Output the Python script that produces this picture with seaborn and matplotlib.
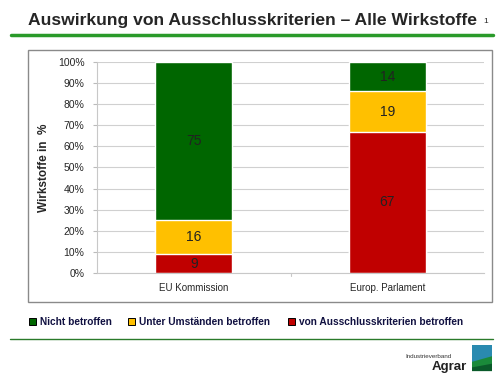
import seaborn as sns
import numpy as np
import matplotlib.pyplot as plt
import pandas as pd
from matplotlib.patches import Rectangle, Polygon
from matplotlib.lines import Line2D

# Daten
gremien = ['EU Kommission', 'Europ. Parlament']
betroffen = [9, 67]        # von Ausschlusskriterien betroffen
unter_umst = [16, 19]      # Unter Umständen betroffen
nicht_betr = [75, 14]      # Nicht betroffen
y_ticks = [0, 10, 20, 30, 40, 50, 60, 70, 80, 90, 100]

farben = {'nicht': '#006600', 'unter': '#FFC000', 'betr': '#C00000'}

sns.set_style('white')
plt.rcParams['font.family'] = ['Liberation Sans', 'DejaVu Sans']

df = pd.DataFrame({'gremium': gremien, 'betr': betroffen, 'unter': unter_umst, 'nicht': nicht_betr})
df['cum_unter'] = df['betr'] + df['unter']
df['cum_nicht'] = df['cum_unter'] + df['nicht']

fig = plt.figure(figsize=(5, 3.73), dpi=100)
ax = fig.add_axes([0.194, 0.268, 0.774, 0.566])

# gestapelt: oberste Schicht zuerst
sns.barplot(x='gremium', y='cum_nicht', data=df, color=farben['nicht'], width=0.4, saturation=1, ax=ax, zorder=2)
sns.barplot(x='gremium', y='cum_unter', data=df, color=farben['unter'], width=0.4, saturation=1, ax=ax, zorder=2)
sns.barplot(x='gremium', y='betr', data=df, color=farben['betr'], width=0.4, saturation=1, ax=ax, zorder=2)

for i, row in df.iterrows():
    ax.text(i, row['betr'] / 2, str(row['betr']), ha='center', va='center', fontsize=10, color='#222222', zorder=3)
    ax.text(i, row['betr'] + row['unter'] / 2, str(row['unter']), ha='center', va='center', fontsize=10, color='#222222', zorder=3)
    ax.text(i, row['cum_unter'] + row['nicht'] / 2, str(row['nicht']), ha='center', va='center', fontsize=10, color='#222222', zorder=3)

ax.set_ylim(0, 100)
ax.set_xlim(-0.5, 1.5)
ax.set_yticks(y_ticks)
ax.set_yticklabels([f'{t}%' for t in y_ticks], fontsize=7.5)
ax.set_xticks([0, 1])
ax.set_xticklabels(gremien, fontsize=7)
ax.tick_params(axis='x', length=0, pad=7)
ax.tick_params(axis='y', length=3, color='#bbbbbb', pad=6, left=True)
ax.yaxis.grid(True, color='#d0d0d0', linewidth=0.8, zorder=0)
ax.set_axisbelow(True)
for s in ['top', 'right']:
    ax.spines[s].set_visible(False)
ax.spines['left'].set_color('#c8c8c8')
ax.spines['bottom'].set_color('#c8c8c8')
ax.plot([0.5, 0.5], [0, -1.2], color='#c8c8c8', lw=0.8, clip_on=False)
ax.set_xlabel('')
ax.set_ylabel('Wirkstoffe in  %', fontsize=8.5, fontweight='bold', labelpad=6)

# Rahmen um Diagramm
fig.patches.append(Rectangle((0.056, 0.19), 0.928, 0.676, transform=fig.transFigure,
                             fill=False, edgecolor='#8a8a8a', lw=1))

# Titel und Linien
fig.text(0.056, 0.945, 'Auswirkung von Ausschlusskriterien – Alle Wirkstoffe', fontsize=12.6,
         fontweight='bold', ha='left', va='center')
fig.text(0.972, 0.942, '1', fontsize=6, ha='center', va='center')
fig.add_artist(Line2D([0.022, 0.986], [0.906, 0.906], color='#2a9a2a', lw=2.5))
fig.add_artist(Line2D([0.02, 0.986], [0.091, 0.091], color='#2a7a2a', lw=1))

# Legende
leg = [('nicht', 'Nicht betroffen', 0.058), ('unter', 'Unter Umständen betroffen', 0.256),
       ('betr', 'von Ausschlusskriterien betroffen', 0.576)]
for key, label, x in leg:
    fig.patches.append(Rectangle((x, 0.128), 0.013, 0.02, transform=fig.transFigure,
                                 facecolor=farben[key], edgecolor='black', lw=0.7))
    fig.text(x + 0.022, 0.137, label, fontsize=7.3, fontweight='bold', color='#101040', va='center')

# Logo
fig.text(0.81, 0.045, 'Industrieverband', fontsize=4.5, ha='left', va='center', color='#333333')
fig.text(0.934, 0.015, 'Agrar', fontsize=9.5, fontweight='bold', ha='right', va='center', color='#222222')
fig.patches.append(Rectangle((0.944, 0.005), 0.04, 0.07, transform=fig.transFigure, facecolor='#1a8a3a', lw=0))
fig.patches.append(Polygon([(0.944, 0.075), (0.984, 0.075), (0.984, 0.045), (0.944, 0.03)],
                           transform=fig.transFigure, facecolor='#2a8ab0', lw=0))
fig.patches.append(Polygon([(0.944, 0.005), (0.984, 0.005), (0.984, 0.025), (0.944, 0.015)],
                           transform=fig.transFigure, facecolor='#0a5a2a', lw=0))

fig.savefig('out.png', dpi=100)
